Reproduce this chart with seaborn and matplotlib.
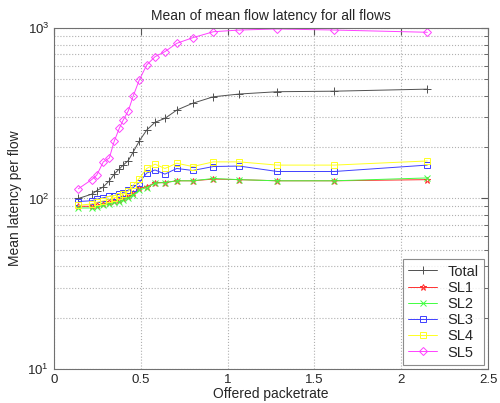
import matplotlib
matplotlib.use("Agg")
import matplotlib.pyplot as plt
import seaborn as sns
import numpy as np
import pandas as pd
from matplotlib.ticker import LogLocator, NullFormatter

x = [0.14, 0.217, 0.246, 0.284, 0.319, 0.347, 0.376, 0.399, 0.428, 0.457, 0.491,
     0.534, 0.582, 0.639, 0.707, 0.799, 0.918, 1.067, 1.286, 1.615, 2.150]

total = [100, 106, 111, 117, 127, 139, 149, 157, 167, 188, 217,
         252, 280, 295, 330, 362, 395, 410, 423, 426, 438]
sl1 = [90, 90, 91, 93, 95, 97, 98, 100, 103, 107, 115,
       117, 124, 124, 127, 127, 130, 129, 127, 127, 129]
sl2 = [88, 88, 89, 91, 93, 95, 96, 98, 101, 105, 112,
       116, 123, 124, 127, 127, 131, 129, 127, 127, 132]
sl3 = [96, 97, 99, 101, 103, 104, 106, 108, 112, 116, 124,
       141, 147, 139, 150, 146, 154, 155, 144, 144, 157]
sl4 = [91, 93, 95, 97, 99, 101, 103, 106, 110, 120, 131,
       150, 159, 150, 161, 154, 164, 164, 157, 157, 166]
sl5 = [114, 129, 137, 164, 173, 217, 258, 289, 327, 401, 495,
       607, 679, 727, 813, 877, 951, 973, 987, 973, 944]

names = ["Total", "SL1", "SL2", "SL3", "SL4", "SL5"]
series = [total, sl1, sl2, sl3, sl4, sl5]
colors = ["#505050", "#ff3030", "#40ff40", "#4040ff", "#ffff20", "#ff40ff"]
markers = ["+", "*", "x", "s", "s", "D"]
msizes = [6, 5, 4, 5, 5, 4]

sns.set_style("white")
plt.rcParams['font.family'] = ['Liberation Sans', 'DejaVu Sans']

fig = plt.figure(figsize=(5.0, 4.03), dpi=100)
ax = fig.add_axes([0.108, 0.0844, 0.868, 0.8461])

for name, vals, c, m, ms in zip(names, series, colors, markers, msizes):
    df = pd.DataFrame({"x": x, "y": vals})
    sns.lineplot(data=df, x="x", y="y", ax=ax, color=c, marker=m,
                 markersize=ms, markerfacecolor="none", markeredgecolor=c,
                 markeredgewidth=0.7, linewidth=0.7, label=name,
                 estimator=None, sort=False)

ax.set_yscale("log")
ax.set_xlim(0, 2.5)
ax.set_ylim(10, 1000)
ax.set_xticks([0, 0.5, 1, 1.5, 2, 2.5])
ax.set_xticklabels(["0", "0.5", "1", "1.5", "2", "2.5"])
ax.yaxis.set_major_locator(LogLocator(base=10, numticks=5))
ax.yaxis.set_minor_locator(LogLocator(base=10, subs=np.arange(2, 10), numticks=20))
ax.yaxis.set_minor_formatter(NullFormatter())

ax.grid(True, which="major", axis="both", linestyle=":", color="#b0b0b0", linewidth=0.8)
ax.grid(True, which="minor", axis="y", linestyle=":", color="#b0b0b0", linewidth=0.8)

ax.tick_params(which="both", direction="in", top=True, right=True,
               color="#555555", labelsize=9.5)
ax.tick_params(which="major", length=5)
ax.tick_params(which="minor", length=3)
for s in ax.spines.values():
    s.set_color("#707070")
    s.set_linewidth(0.8)

ax.set_title("Mean of mean flow latency for all flows", fontsize=10, pad=6)
ax.set_xlabel("Offered packetrate", fontsize=10, labelpad=1)
ax.set_ylabel("Mean latency per flow", fontsize=10, labelpad=4)

leg = ax.legend(loc="lower right", fontsize=10.5, frameon=True, fancybox=False,
                edgecolor="#707070", borderaxespad=0.3, handlelength=2.0,
                labelspacing=0.15, borderpad=0.35, handletextpad=0.7)
leg.get_frame().set_linewidth(0.8)

fig.savefig("out.png", dpi=100)
